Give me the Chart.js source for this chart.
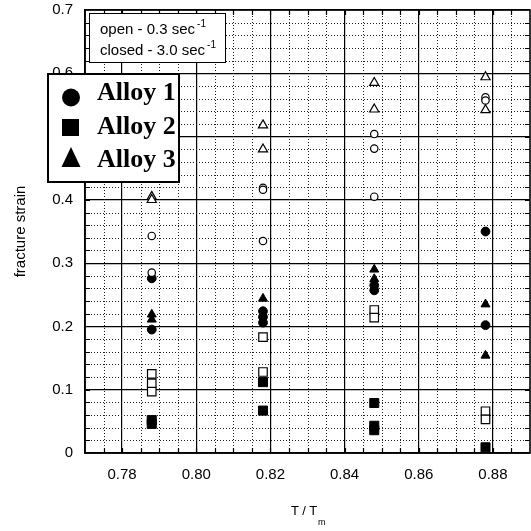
<!DOCTYPE html>
<html>
<head>
<meta charset="utf-8">
<script src="https://cdn.jsdelivr.net/npm/chart.js@4.4.1/dist/chart.umd.min.js"></script>
<style>
  html, body { margin: 0; padding: 0; background: #fff; }
  #wrap { position: relative; width: 531px; height: 531px; font-family: 'Liberation Sans', Arial, sans-serif; }
  #c { position: absolute; left: 0; top: 0; }
  .box { position: absolute; background: #fff; border: 1.5px solid #000; box-sizing: border-box; }
  .t { position: absolute; white-space: nowrap; color: #000; }
  .rate { font-size: 15px; line-height: 15px; }
  .rate sup { font-size: 10px; vertical-align: baseline; position: relative; top: -7px; margin-left: 2px; }
  .alloy { font-family: 'Liberation Serif', 'Times New Roman', serif; font-weight: bold; font-size: 26px; line-height: 26px; }
</style>
</head>
<body>
<div id="wrap">
  <canvas id="c" width="531" height="531"></canvas>

  <!-- strain rate key -->
  <div class="box" style="left:89px;top:13px;width:137px;height:50px;"></div>
  <div class="t rate" style="left:100px;top:21px;">open - 0.3 sec<sup>-1</sup></div>
  <div class="t rate" style="left:100px;top:42px;">closed - 3.0 sec<sup>-1</sup></div>

  <!-- alloy key -->
  <div class="box" style="left:47px;top:73px;width:133px;height:110px;border-width:2px;"></div>
  <svg style="position:absolute;left:0;top:0;" width="531" height="200">
    <circle cx="71" cy="97.5" r="9" fill="#000"/>
    <rect x="62" y="119" width="17" height="17" fill="#000"/>
    <polygon points="71,147 61.5,167 80.5,167" fill="#000"/>
  </svg>
  <div class="t alloy" style="left:97px;top:79px;">Alloy 1</div>
  <div class="t alloy" style="left:97px;top:113px;">Alloy 2</div>
  <div class="t alloy" style="left:97px;top:146px;">Alloy 3</div>

  <!-- x axis title -->
  <div class="t" style="left:291px;top:504px;font-size:13px;line-height:13px;">T / T</div>
  <div class="t" style="left:318px;top:518px;font-size:9px;line-height:9px;">m</div>
</div>

<script>
// axis ranges and tick labels
const xRange = [0.77, 0.89];
const yRange = [0, 0.7];
const xTicks = [0.78, 0.80, 0.82, 0.84, 0.86, 0.88];
const yTicks = [0, 0.1, 0.2, 0.3, 0.4, 0.5, 0.6, 0.7];

// Alloy 1 (circles)
const a1OpenT = [0.788, 0.788, 0.818, 0.818, 0.818, 0.848, 0.848, 0.848, 0.878, 0.878];
const a1OpenStrain = [0.343, 0.285, 0.419, 0.416, 0.335, 0.504, 0.481, 0.405, 0.562, 0.557];
const a1ClosedT = [0.788, 0.788, 0.818, 0.818, 0.818, 0.848, 0.848, 0.878, 0.878];
const a1ClosedStrain = [0.276, 0.195, 0.224, 0.215, 0.206, 0.265, 0.257, 0.350, 0.202];

// Alloy 2 (squares)
const a2OpenT = [0.788, 0.788, 0.788, 0.818, 0.818, 0.848, 0.848, 0.878, 0.878];
const a2OpenStrain = [0.125, 0.110, 0.097, 0.183, 0.128, 0.226, 0.214, 0.066, 0.053];
const a2ClosedT = [0.788, 0.788, 0.818, 0.818, 0.848, 0.848, 0.848, 0.878];
const a2ClosedStrain = [0.052, 0.046, 0.112, 0.067, 0.079, 0.043, 0.036, 0.009];

// Alloy 3 (triangles)
const a3OpenT = [0.788, 0.788, 0.818, 0.818, 0.848, 0.848, 0.878, 0.878];
const a3OpenStrain = [0.405, 0.400, 0.518, 0.480, 0.585, 0.543, 0.594, 0.542];
const a3ClosedT = [0.788, 0.788, 0.818, 0.848, 0.848, 0.878, 0.878];
const a3ClosedStrain = [0.219, 0.211, 0.244, 0.290, 0.275, 0.235, 0.154];

const toPoints = (xs, ys) => xs.map((x, i) => ({ x: x, y: ys[i] }));

function series(label, xs, ys, style, filled, r) {
  return {
    label: label,
    data: toPoints(xs, ys),
    pointStyle: style,
    pointRadius: r,
    pointHoverRadius: r,
    pointBackgroundColor: filled ? '#000' : '#fff',
    pointBorderColor: '#000',
    pointBorderWidth: filled ? 1 : 1.2,
    showLine: false,
    clip: false
  };
}

// open markers first, filled ones drawn on top
const datasets = [
  series('Alloy 1 open', a1OpenT, a1OpenStrain, 'circle', false, 3.7),
  series('Alloy 2 open', a2OpenT, a2OpenStrain, 'rect', false, 6),
  series('Alloy 3 open', a3OpenT, a3OpenStrain, 'triangle', false, 5.3),
  series('Alloy 1 closed', a1ClosedT, a1ClosedStrain, 'circle', true, 4.4),
  series('Alloy 2 closed', a2ClosedT, a2ClosedStrain, 'rect', true, 6.4),
  series('Alloy 3 closed', a3ClosedT, a3ClosedStrain, 'triangle', true, 5.2)
];

// dotted minor grid, inward ticks and the frame
const minorGrid = {
  id: 'minorGrid',
  beforeDatasetsDraw(chart) {
    const { ctx, chartArea: a, scales: { x, y } } = chart;
    ctx.save();
    ctx.strokeStyle = '#222';
    ctx.lineWidth = 1;
    ctx.setLineDash([1, 2]);
    for (let i = 1; i < 24; i++) {
      if ((i - 2) % 4 === 0) continue;
      const px = Math.round(x.getPixelForValue(xRange[0] + i * 0.005)) + 0.5;
      ctx.beginPath(); ctx.moveTo(px, a.top); ctx.lineTo(px, a.bottom); ctx.stroke();
    }
    for (let i = 1; i < 35; i++) {
      if (i % 5 === 0) continue;
      const py = Math.round(y.getPixelForValue(i * 0.02)) + 0.5;
      ctx.beginPath(); ctx.moveTo(a.left, py); ctx.lineTo(a.right, py); ctx.stroke();
    }
    ctx.setLineDash([]);
    ctx.strokeStyle = '#000';
    ctx.lineWidth = 1.2;
    for (let i = 1; i < 24; i++) {
      const px = Math.round(x.getPixelForValue(xRange[0] + i * 0.005)) + 0.5;
      ctx.beginPath();
      ctx.moveTo(px, a.top); ctx.lineTo(px, a.top + 5);
      ctx.moveTo(px, a.bottom); ctx.lineTo(px, a.bottom - 5);
      ctx.stroke();
    }
    for (let i = 1; i < 35; i++) {
      const py = Math.round(y.getPixelForValue(i * 0.02)) + 0.5;
      ctx.beginPath();
      ctx.moveTo(a.left, py); ctx.lineTo(a.left + 5, py);
      ctx.moveTo(a.right, py); ctx.lineTo(a.right - 5, py);
      ctx.stroke();
    }
    ctx.lineWidth = 1.6;
    ctx.strokeRect(a.left, a.top, a.right - a.left, a.bottom - a.top);
    ctx.restore();
  }
};

const tickFont = { family: "'Liberation Sans', Arial, sans-serif", size: 15 };

new Chart(document.getElementById('c'), {
  type: 'scatter',
  data: { datasets: datasets },
  options: {
    responsive: false,
    animation: false,
    events: [],
    layout: { autoPadding: false, padding: { top: 10, right: 1, bottom: 0, left: 0 } },
    plugins: { legend: { display: false }, tooltip: { enabled: false } },
    scales: {
      x: {
        type: 'linear',
        min: xRange[0],
        max: xRange[1],
        afterFit(s) { s.height = 78; s.paddingLeft = 0; s.paddingRight = 0; },
        afterBuildTicks(s) { s.ticks = xTicks.map(v => ({ value: v })); },
        ticks: { color: '#000', font: tickFont, padding: 13, maxRotation: 0, autoSkip: false,
                 callback: v => Number(v).toFixed(2) },
        grid: { color: '#000', lineWidth: 1.2, drawTicks: false },
        border: { color: '#000', width: 1.6 }
      },
      y: {
        min: yRange[0],
        max: yRange[1],
        afterFit(s) { s.width = 85; s.paddingTop = 0; s.paddingBottom = 0; },
        afterBuildTicks(s) { s.ticks = yTicks.map(v => ({ value: v })); },
        ticks: { color: '#000', font: tickFont, padding: 12, autoSkip: false,
                 callback: v => v === 0 ? '0' : Number(v).toFixed(1) },
        grid: { color: '#000', lineWidth: 1.2, drawTicks: false },
        border: { color: '#000', width: 1.6 },
        title: { display: true, text: 'fracture strain', color: '#000',
                 font: { family: "'Liberation Sans', Arial, sans-serif", size: 15 },
                 padding: { top: 12, bottom: 0 } }
      }
    }
  },
  plugins: [minorGrid]
});
</script>
</body>
</html>
